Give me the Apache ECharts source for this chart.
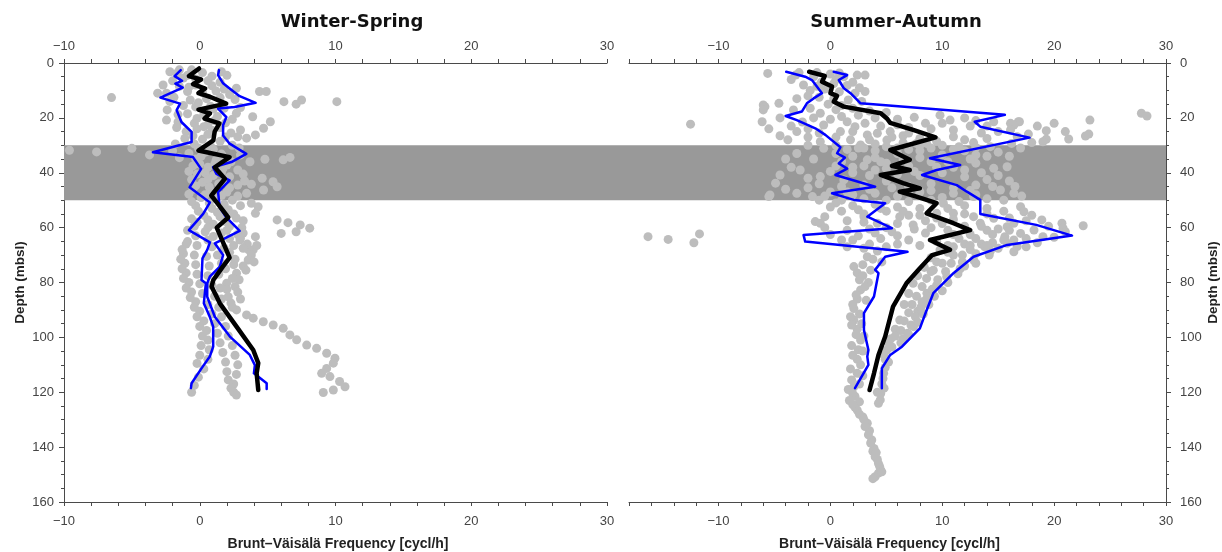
<!DOCTYPE html>
<html>
<head>
<meta charset="utf-8">
<script src="https://cdn.jsdelivr.net/npm/echarts/dist/echarts.min.js"></script>
<style>
  html, body { margin: 0; padding: 0; background: #fff; }
  #chart { width: 1222px; height: 552px; }
</style>
</head>
<body>
<div id="chart"></div>
<script>
// Brunt–Väisälä frequency profiles, two seasons. Values are [frequency (cycl/h), depth (m)].

const panelTitles = ['Winter-Spring', 'Summer-Autumn'];
const xAxisName = 'Brunt–Väisälä Frequency [cycl/h]';
const yAxisName = 'Depth (mbsl)';
const xLabelValues = [-10, 0, 10, 20, 30];
const depthLabelValues = [0, 20, 40, 60, 80, 100, 120, 140, 160];
const shadedDepths = [30, 50];

// Winter-Spring: mean profile and the two bounding profiles
const wsMean = [[-0.05,2],[-0.8,4.8],[0.1,6],[-0.5,7.7],[0.4,9.3],[-0.1,11],[0.75,12.3],[1.95,14.8],[-0.1,17],[0.75,18.4],[0.35,20.3],[1.45,22],[1.1,25],[1.0,28.2],[-0.1,31.9],[2.2,34.3],[1.1,38],[1.85,42.2],[0.85,48.3],[1.35,51.4],[2.1,56.3],[1.25,60],[2.2,70.9],[1.7,74.2],[1.0,79.1],[0.87,81.5],[1.48,87.6],[2.71,96.1],[3.94,104.6],[4.31,109.4],[4.19,113.1],[4.31,119.2]];
const wsLow = [[-1.4,2.6],[-1.85,4.8],[-1.3,6.5],[-1.8,7.5],[-1.25,9],[-2.9,12.6],[-1.45,14.8],[-1.7,17.2],[-1.35,21.5],[-0.6,25.1],[-0.6,28.8],[-3.45,32.5],[-0.5,34.3],[0.1,38.6],[-0.75,45.3],[0.75,50.8],[0.25,55],[-0.8,60.9],[0.75,65.4],[0.55,68.1],[0.2,71.2],[0.13,79.1],[0.45,80.3],[0.3,87.6],[0.74,92.5],[0.99,96.1],[0.99,103.4],[0.74,107],[0.13,111.3],[-0.6,116.7],[-0.65,118.5]];
const wsHigh = [[1.42,2.6],[1.35,4.4],[1.72,7.4],[2.2,9.3],[2.94,12.1],[4.12,14.5],[2.57,16],[1.35,16.6],[1.96,19.7],[1.72,22.7],[1.72,26.4],[2.2,29.4],[3.43,33.1],[2.33,36.1],[0.98,38],[1.23,40.4],[2.2,42.8],[1.35,47.1],[1.47,52.6],[1.96,56.3],[2.94,61.2],[1.11,65.7],[1.72,70],[1.48,74.2],[0.74,77.9],[0.55,80.3],[0.55,85.2],[1.11,92.5],[2.22,99.7],[3.69,106.4],[4.06,110.1],[3.99,113.1],[4.93,116.7],[4.93,118.8]];

// Winter-Spring: individual cast values
const wsDots = [
  [-2.2,3.2],[-1.7,3.8],[-0.6,2.5],[0.2,3.5],[1.6,3.2],[2.0,4.5],[-1.2,5.5],[-2.0,6.5],[-0.3,5.8],[0.6,6.5],[1.5,7],
  [-2.7,8],[-1.5,8.5],[-0.8,8.8],[0.9,8.3],[2.7,9.2],[-3.1,11],[-2.45,11],[-0.9,10.4],[0.2,10.8],[1.2,10.2],[2.2,11.5],
  [4.4,10.4],[4.9,10.4],[-6.5,12.6],[-1.9,12.5],[-0.7,13.5],[0.5,13],[1.5,12.6],[2.6,13.3],[6.2,14.1],[7.5,13.5],[7.1,15],
  [10.1,14.1],[-2.4,17.1],[-1.2,15.5],[-0.3,16],[0.8,15.8],[1.8,16.5],[3.0,16.2],[-0.9,18.5],[0.3,18.8],[1.3,19.5],
  [2.7,18.3],[3.9,19.6],[-2.45,20.8],[-1.6,21.5],[-0.4,22],[0.6,22.5],[1.9,21.8],[5.2,21.4],[-1.0,25],[-0.2,24],
  [0.9,24.5],[2.3,25.5],[3.0,24.4],[4.7,23.8],[2.8,26.9],[4.1,26.2],[3.45,27.4],[-1.1,27.5],[0.2,27.8],[1.5,28.5],
  [-0.4,29.5],[0.8,30.3],[2.4,30],[-9.6,31.8],[-7.6,32.4],[-5.0,31.1],[-3.7,33.5],[-2.0,32],[-0.8,33],[0.4,32.5],
  [1.6,33.2],[3.0,33.5],[-0.3,35],[1.2,35.5],[2.3,36],[3.7,36],[4.8,35.1],[6.15,35.3],[6.65,34.4],[-0.5,37.5],[0.6,38],
  [1.7,38.5],[2.8,39],[-0.2,40.5],[1.0,41],[2.2,41.5],[4.6,42],[5.4,43.3],[5.7,45.1],[0.2,43.5],[1.4,44],[2.8,44.5],
  [-0.5,46],[0.8,46.5],[2.0,47],[3.45,47.5],[4.7,46.3],[0.1,49],[1.2,49.5],[2.4,50],[3.8,51.1],[4.3,52.4],[-0.3,52],
  [0.9,53],[2.1,53.5],[4.1,54.8],[0.3,55.5],[1.5,56],[2.7,56.5],[5.7,57.2],[6.5,58.2],[7.4,59],[8.1,60.2],[7.1,61.5],
  [6.0,62.1],[-0.2,58],[1.0,58.8],[2.2,59.5],[3.1,60],[-0.9,61],[0.4,61.5],[1.6,62],[2.8,62.5],[4.1,63.3],[-0.9,65.1],
  [0.6,64.5],[3.6,68.1],
  [-1.5,2.5],[-0.9,4.5],[0.9,4.8],[-0.3,8],[1.8,9.5],[-2.2,14],[-0.1,14.5],[1.0,16.8],[-1.6,18.8],[-0.2,20.2],[1.1,21],
  [2.4,20.5],[-1.7,23.5],[0.3,23.2],[1.5,23.5],[-0.5,26.5],[0.6,26],[1.9,27],[-1.8,29.5],[-0.1,31],[1.0,31.5],[2.9,31],
  [-1.5,34.5],[0.1,34],[1.8,34.5],[0.0,36.8],[1.1,37],[2.0,37.2],[-0.8,39.5],[0.4,40],[1.6,40],[3.2,40.5],[-0.6,42.5],
  [0.6,42.5],[1.8,43],[3.3,43],[-0.3,44.8],[0.7,45.2],[2.2,45.5],[3.8,44.2],[-0.8,47.8],[0.4,48],[1.6,48.3],[2.8,48.5],
  [-0.6,50.5],[0.7,51],[1.8,51.5],[3.0,52],[-0.1,54],[1.3,54.5],[2.5,55],[3.2,57.5],[-0.6,56.8],[0.6,57.2],[1.9,57.8],
  [-0.4,59.5],[0.6,60],[2.0,61],[3.2,62],[-0.3,63],[1.0,63.2],[2.2,64],[3.0,63.8],
  [2.96,64.5],[3.5,66],[3.94,68.1],[3.8,70],[3.57,71.8],[3.2,74],[2.71,76.6],[2.4,78.5],[1.98,80.3],[2.0,82.5],[2.1,85.2],
  [2.3,87.5],[2.71,90],[3.45,91.8],[3.94,93],[4.68,94.3],[5.41,95.5],[6.15,96.7],[6.64,99.1],[7.14,100.9],[7.88,102.8],
  [8.61,104],[9.35,105.8],[9.96,107.6],[9.84,109.4],[9.35,111.3],[8.98,113.1],[9.59,114.3],[10.3,116.1],[10.7,118],
  [9.84,119.2],[9.1,120.1],
  [-1.0,66],[-0.2,66.5],[0.9,67],[1.8,67.5],[2.5,66.5],[-1.2,69.5],[-0.4,70],[0.5,70.5],[1.3,70],[2.2,69],[-1.1,73],
  [-0.3,73.5],[0.7,74],[1.6,73],[2.5,73.5],[-1.0,76.5],[-0.2,77],[0.6,77.5],[1.4,77],[-0.8,80],[0.0,80.5],[0.9,81],
  [1.5,82],[-0.6,83.5],[0.2,84],[1.1,85],[1.6,86],[-0.3,87],[0.6,88],[1.4,89],[0.0,90.5],[0.9,91.5],[1.6,92.5],[0.3,94],
  [1.1,95],[1.9,96],[0.5,97.5],[1.3,98.5],[2.1,99.5],[0.6,101],[1.5,102],[2.4,103],[0.7,104.5],[1.7,105.5],[2.6,106.5],
  [0.6,108],[1.9,109],[2.8,110],[0.3,111.5],[2.0,112.5],[2.7,113.5],[-0.1,114.5],[2.1,115.5],[2.5,117],[-0.4,117.5],
  [2.3,118.5],[2.5,120],[2.7,121],[-0.6,120],
  [3.2,67.5],[4.2,66.5],[4.0,72.5],[3.4,75.5],[2.9,79],[2.6,81.5],[2.8,83.5],[3.0,86],[2.4,89],[1.9,75],[2.6,71.5],
  [-1.3,68],[-1.4,71.5],[-1.3,75],[-1.2,78.5],[-1.0,82],[-0.7,85.5],[-0.4,89],[-0.2,92.5],[0.0,96],[0.2,99.5],[0.1,103],
  [0.0,106.5],[-0.2,109.5]
];

// Summer-Autumn: mean profile and the two bounding profiles
const saMean = [[-1.9,3.2],[-0.5,4.7],[-0.75,6.8],[0.15,8.6],[0,11],[0.6,12],[0.3,14.1],[1.2,15.9],[4.5,18.3],[5.05,20.2],[5.35,21.8],[7.4,24.4],[9.4,27.1],[5.35,31.7],[7.1,35.3],[5.5,37.5],[7.1,39],[4.5,40.8],[6.5,43.8],[8.0,45.7],[6.2,46.9],[7.7,48.7],[9.5,51.1],[8.6,54.8],[11,58.4],[12.5,60.9],[8.9,64.5],[10.7,68.1],[9.1,70],[8.0,74.8],[6.8,80.3],[5.6,88.8],[4.9,99.7],[4.3,106.4],[3.9,113.1],[3.5,119.2]];
const saLow = [[-3.95,3.2],[-2.25,5],[-1.65,6.2],[-0.75,11],[-1.5,12.9],[-2.1,14.7],[-2.55,17.7],[-4.0,19.3],[-3.0,20.8],[-1.35,23.8],[-0.45,26.2],[0.9,30.7],[0.6,32.9],[1.3,34.5],[0.75,36.6],[1.5,38.5],[0.45,40.8],[4.0,45.1],[0.15,47.5],[2.1,49.9],[4.9,51.1],[3.3,56],[5.5,60.2],[-2.4,62.7],[-2.25,65.1],[6.9,68.8],[4.9,70.6],[4.0,75.4],[4.3,76.6],[3.9,85.1],[3.0,91.2],[3.0,97.3],[3.4,104.6],[3.3,107],[3.4,110],[2.2,118.5]];
const saHigh = [[0.3,3.2],[1.5,4.4],[0.75,6.2],[1.2,9.2],[1.8,11],[2.7,14.7],[15.6,18.9],[12.9,21.4],[13.4,23.2],[17.8,27.2],[8.9,34.7],[11.6,37.2],[9.5,39],[8.2,40.8],[11.3,44.5],[12.2,46.9],[13.4,49.9],[13.4,55],[18.4,59],[21.6,62.9],[15.8,66.3],[12.8,70.6],[11,76.6],[9.2,83.9],[8.5,91.2],[8.0,96.7],[6.4,103.4],[5.35,106.4],[4.6,111.3],[4.6,118.5]];

// Summer-Autumn: individual cast values
const saDots = [
  [-5.6,3.8],[-3.1,4.4],[-2.4,8],[-1.5,5],[-0.8,7],[0.5,6],[1.2,5],[2.4,4.4],[3.1,4.4],[-1.8,10],[-0.5,9.5],[0.8,10.5],
  [2.2,11],[3.1,10.4],[1.5,8.2],[-1,12.5],[0.3,13],[1.6,13.5],[2.8,14],[-6,15.3],[-4.6,14.7],[-5.85,15.9],[-6,17.1],
  [-3.3,17.1],[-1.8,16.5],[-0.9,18.3],[0.5,17],[2,16.5],[3.5,17.5],[5,18],[-6.1,21.4],[-12.5,22.3],[-0.6,22.6],
  [1.5,21.4],[2.2,23.2],[3.1,22],[0.9,25],[3.3,26.2],[4.2,25.6],[5.35,25],[5.05,28.1],[2.7,29.9],[-0.9,28.7],[-0.6,31.1],
  [0.5,30],[1.8,28],[9.8,19],[10.7,20.8],[11,24.4],[11,26.9],[8.5,22],[7,23.5],[6.5,26.5],[8,27.5],[7.7,29.3],[8.6,29.3],
  [14.6,21.4],[16.1,22],[16.9,21.4],[16.7,26.9],[14.3,30.5],[27.8,18.3],[28.3,19.3],[23.2,20.8],[23.1,25.9],[22.8,26.6],
  [19.3,24.7],[19.3,27.8],[19,28.7],[21.3,27.7],[16.8,21.4],[16.4,22.6],[16.1,24.4],[17.7,25.9],[16.2,29.3],[12.5,23],
  [13.5,25.5],[12,28],[10,30],[6,31],[4,32],
  [-3.5,6],[-2.8,3.5],[-1.2,3.5],[0,4],[0.8,3.6],[-2,12],[-0.2,15],[1,15.5],[-3,13],[2,7],[2.6,9],[-1.2,8.5],[0.3,7.5],
  [1,19.5],[2.5,19],[4,20],[6,20.5],[7.5,19.8],[0,20.5],[-1.5,20],[-2.5,21.5],[-4.5,20],[-3.5,23],[-2,24],[-1,25.5],
  [0.5,27],[2,25],[3.5,28],[4.5,23],[6,22.5],[7,25.5],[9,24],[10,22],[12,20],[13,21],[14,23],[15,25],[14,27.5],
  [12.8,29],[11.5,30.5],[9.5,28.5],[8,30],[6.5,29],[5.5,27],[4,29.5],[2.5,31],[-2,27],[-3,25],[-3.8,28],[-2,30],
  [-4.5,26.5],[-5.5,24],[18.5,23],[20,22],[21,25],[18,29],[17,31],[13,33.5],[15,32.5],[16,34],
  [-2.7,39],[-4.5,40.8],[-4.9,43.8],[-5.4,48.1],[-3,47.5],[-1.6,48.7],[-0.9,41.4],[1.2,42.6],[3.3,35.3],[14.6,38.4],
  [15.8,37.8],[15.2,46.3],[16.4,47.5],[12.8,48.7],[17.1,48.5],[-5.5,48.7],[0.5,33],[2,34],[4,34.5],[6,33],[8,32],
  [10,33.5],[12,32],[1,36],[3,37.5],[5,36.5],[7,37.5],[9,36],[11,38],[13,36.5],[0,39.5],[2,40],[4,39],[6,40.5],[8,41],
  [10,40],[12,41.5],[14,42.5],[-1,44],[1,45],[3,44.5],[5,43],[7,45],[9,44],[11,45.5],[13,44.5],[-2,45.5],[0,47],[2,48],
  [4,47.5],[6,48.5],[8,47],[10,49],[14,49.5],
  [-4,35],[-3,33],[-1.5,35],[-3.5,38],[-2,42],[-4,46],[-1,50],[1.5,31.5],[3,31],[5,30.5],[7,31.5],[9,31],[11,31.5],
  [13,30.8],[14,34],[12.5,35],[10.5,36],[8,34.5],[6.5,35],[4.5,36],[2,38],[0.5,37.5],[3.5,41],[5,38.5],[7.5,39.5],
  [9.5,38],[12,39],[13.5,40],[15,41],[16,43],[14.5,45],[12.5,46.5],[11,47.5],[9,46.5],[7,47],[5.5,45.5],[3.5,46],
  [1.5,47],[-0.5,48.5],[1,50],[3,49.5],[5,50],[7,50.5],[9,50],[11.5,50.5],[13,48],[15.5,50],[16.5,45],
  [10.1,51.1],[9.5,54.8],[11,54.8],[12.8,56],[13.4,58.4],[14.6,56.6],[15.8,59.7],[7.4,59],[6.2,56],[4.2,58.4],[3,56],
  [-1.35,57.8],[-0.9,58.4],[1,64.5],[15.5,64.5],[16.7,66.9],[17,52.4],[17.3,54.2],[18.9,57.2],[20.7,58.4],[20.8,60.2],
  [22.6,59.3],[16.4,58.4],[17,62.1],[18.2,60.9],[19,63.3],[16.4,64.5],[15.6,63.3],[16.4,68.8],[-16.3,63.3],[-14.5,64.3],
  [-11.7,62.3],[-12.2,65.5],[0.5,51],[2,52],[4,51.5],[6,52.5],[8,53],[1,54],[3,55],[5,54],[7,55.5],[12,52],[14,53],
  [-0.5,60],[1.5,61],[3.5,60.5],[5.5,61.5],[8.5,62],[10.5,61],[12.5,62.5],[14,61],[2.5,63],[4.5,64],[7,64.5],[9.5,65],
  [11.5,64],[13.5,66],
  [0,52.5],[2.5,53.5],[4.5,53],[6.5,54],[8,55.5],[9.5,56.5],[11,57],[12,59.5],[10,58.5],[8.5,57.5],[6,58.5],[5,60],
  [3,58],[1.5,57.5],[-0.5,56],[0,62.5],[2,64.5],[4,62],[6,63],[7.5,60.5],[9,60],[11,62.5],[13,64],[14.5,62.5],[15,60.5],
  [17.5,57.5],[18,55.5],[19.5,59.5],[21,61.5],[20,63.5],[17.5,64],[16,61],[13.5,59.5],[12,55],[14,55],[15.5,54],
  [16,56.5],[10.5,53],[18.5,65.5],[17.5,67],[14.5,65.5],[12,66],[10.5,66.5],[8,66.5],[6,66],[3.5,66],[1.5,67],
  [3.3,70.6],[2.1,74.2],[2.4,76.5],[2.6,79],[2.7,82.7],[2.4,86],[2.1,89.5],[2.1,93.7],[2.4,97],[2.7,101],[2.5,104.5],
  [2.4,108],[2.4,113.1],[2.1,118],[2.2,121.5],[2.4,126.5],[2.9,129],[3.3,131.3],[3.5,134],[3.7,137.4],[3.9,140.5],
  [4.0,143.5],[4.3,146],[4.5,148.3],[4.0,150.8],
  [3.0,67.5],[4.2,68.5],[5,67],[3.8,71.5],[4.6,72.5],[2.9,73.5],[3.6,75.5],[2.9,77.5],[3.4,80],[3.1,81.5],[2.3,84.5],
  [3.2,86.5],[2.0,88],[2.6,91.5],[1.8,92.5],[1.9,95.5],[2.8,95],[2.3,99],[3.0,99.5],[1.9,103],[2.9,105],[2.0,106.5],
  [2.7,110],[1.8,111.5],[2.9,114],[1.9,115.5],[2.6,117],[1.6,119],[2.0,120.5],[1.7,123],[2.6,123.5],[2.2,125.5],
  [2.0,124.5],[2.6,128],[3.0,130],[3.1,132.5],[3.4,135.5],[3.6,138.5],[3.8,141.5],[4.1,142],[4.2,144.5],[4.4,147],
  [4.3,149.5],[4.6,149],[3.8,151.5],
  [9.8,68.1],[9.0,71],[8.4,74.5],[7.8,77.5],[7.4,80.3],[7.0,84],[6.6,88],[6.2,93.7],[5.8,97],[5.4,100.5],[5.05,104.6],
  [4.9,108],[4.76,113.1],[4.6,117],[4.46,122.8],[4.2,120],
  [15.8,65.7],[14.3,68.5],[12.8,71.8],[11.6,75],[10.4,77.9],[9.5,81],[8.63,83.9],[8.2,87],[7.8,90.5],[7.43,96.1],[7,99],
  [6.3,102],[11,70],[10,73],[9,76],[12.5,68],[13.8,67],[11.8,72.5],
  [11,67],[12.5,66.5],[14,66.5],[15,67.5],[10.5,69],[11.8,70],[13,69.5],[14.2,70],[9.5,72.5],[10.8,73],[12,74],[13,73],
  [9.2,75.5],[10.3,76],[11.4,76.8],[8.6,78.5],[9.6,79],[10.5,80],[8.2,81.5],[9.1,82.5],[10,83],[7.7,85],[8.6,86],
  [9.3,85],[7.3,88],[8.1,89],[8.8,88],[7,91],[7.6,92.5],[8.3,91.5],[6.6,94],[7.2,95.5],[7.8,94.5],[6.3,97.5],[6.9,98.5],
  [5.8,99.5],[6.5,100.5],[5.2,102],[5.5,103.5],[4.8,106.5],[5.2,109],[4.9,111],[4.7,115],[4.8,118.5],[4.5,120.5],[4.3,124]
];

const FONT = '"Liberation Sans", Arial, sans-serif';
const TITLE_FONT = '"DejaVu Sans", Verdana, sans-serif';
const AXIS_COLOR = '#4a4a4a';
const LABEL_COLOR = '#444';

function fmtX(v) {
  if (!xLabelValues.some(t => Math.abs(t - v) < 1e-6)) return '';
  const r = Math.round(v);
  return r < 0 ? '\u2212' + Math.abs(r) : String(r);
}
function fmtY(v) {
  return depthLabelValues.some(t => Math.abs(t - v) < 1e-6) ? String(Math.round(v)) : '';
}

function makeXAxis(gridIndex, position, min, named, namePad) {
  return {
    type: 'value', gridIndex, position, min, max: 30, interval: 2,
    axisLine: { show: true, onZero: false, lineStyle: { color: AXIS_COLOR, width: 1 } },
    axisTick: { show: true, inside: false, length: 4, lineStyle: { color: AXIS_COLOR } },
    axisLabel: { show: true, formatter: fmtX, color: LABEL_COLOR, fontSize: 13, fontFamily: FONT,
      margin: position === 'top' ? 10 : 13 },
    splitLine: { show: false },
    name: named ? xAxisName : '',
    nameLocation: 'middle', nameGap: 35,
    nameTextStyle: { fontFamily: FONT, fontWeight: 'bold', fontSize: 14, color: '#222', padding: namePad || 0 }
  };
}
function makeYAxis(gridIndex, position) {
  return {
    type: 'value', gridIndex, position, inverse: true, min: 0, max: 160, interval: 20,
    axisLine: { show: true, onZero: false, lineStyle: { color: AXIS_COLOR, width: 1 } },
    axisTick: { show: true, length: 5, lineStyle: { color: AXIS_COLOR } },
    minorTick: { show: true, splitNumber: 4, length: 3, lineStyle: { color: AXIS_COLOR } },
    axisLabel: { show: true, formatter: fmtY, color: LABEL_COLOR, fontSize: 13, fontFamily: FONT,
      margin: position === 'left' ? 10 : 14 },
    splitLine: { show: false },
    name: yAxisName, nameLocation: 'middle', nameRotate: 90,
    nameGap: position === 'left' ? 37 : 40,
    nameTextStyle: { fontFamily: FONT, fontWeight: 'bold', fontSize: 13.5, color: '#222' }
  };
}

function lineSeries(data, xi, yi, color, width, z) {
  return {
    type: 'line', xAxisIndex: xi, yAxisIndex: yi, data, symbol: 'none', smooth: false,
    lineStyle: { color, width, join: 'round', cap: 'round' }, z, silent: true
  };
}
function dotSeries(data, xi, yi) {
  return {
    type: 'scatter', xAxisIndex: xi, yAxisIndex: yi, data, symbol: 'circle', symbolSize: 9,
    itemStyle: { color: '#bdbdbd', opacity: 1 }, z: 2, silent: true
  };
}

const chart = echarts.init(document.getElementById('chart'), null, { renderer: 'canvas' });

chart.setOption({
  animation: false,
  backgroundColor: '#ffffff',
  title: [
    { text: panelTitles[0], left: 347, top: 8, textAlign: 'center',
      textStyle: { fontFamily: TITLE_FONT, fontWeight: 'bold', fontSize: 18, color: '#111' } },
    { text: panelTitles[1], left: 891, top: 8, textAlign: 'center',
      textStyle: { fontFamily: TITLE_FONT, fontWeight: 'bold', fontSize: 18, color: '#111' } }
  ],
  grid: [
    { left: 64, top: 63, width: 543, height: 439, outerBoundsMode: 'none', containLabel: false },
    { left: 629, top: 63, width: 537, height: 439, outerBoundsMode: 'none', containLabel: false },
    { left: 64, top: 63, width: 1102, height: 439, outerBoundsMode: 'none', containLabel: false }
  ],
  xAxis: [
    makeXAxis(0, 'bottom', -10, true, [0, 0, 0, 5]),
    makeXAxis(0, 'top', -10, false),
    makeXAxis(1, 'bottom', -18, true, [0, 16, 0, 0]),
    makeXAxis(1, 'top', -18, false),
    { type: 'value', gridIndex: 2, min: 0, max: 1, show: false }
  ],
  yAxis: [
    makeYAxis(0, 'left'),
    makeYAxis(1, 'right'),
    { type: 'value', gridIndex: 2, min: 0, max: 160, inverse: true, show: false }
  ],
  series: [
    {
      type: 'line', xAxisIndex: 4, yAxisIndex: 2, data: [[0, 0]], symbol: 'none',
      lineStyle: { opacity: 0 }, z: 0, silent: true,
      markArea: { silent: true, itemStyle: { color: '#999999' },
        data: [[{ yAxis: shadedDepths[0] }, { yAxis: shadedDepths[1] }]] }
    },
    dotSeries(wsDots, 0, 0),
    dotSeries(saDots, 2, 1),
    lineSeries(wsLow, 0, 0, '#0000ff', 2.5, 3),
    lineSeries(wsHigh, 0, 0, '#0000ff', 2.5, 3),
    lineSeries(wsMean, 0, 0, '#000000', 4.5, 4),
    lineSeries(saLow, 2, 1, '#0000ff', 2.5, 3),
    lineSeries(saHigh, 2, 1, '#0000ff', 2.5, 3),
    lineSeries(saMean, 2, 1, '#000000', 4.5, 4)
  ]
});
</script>
</body>
</html>
